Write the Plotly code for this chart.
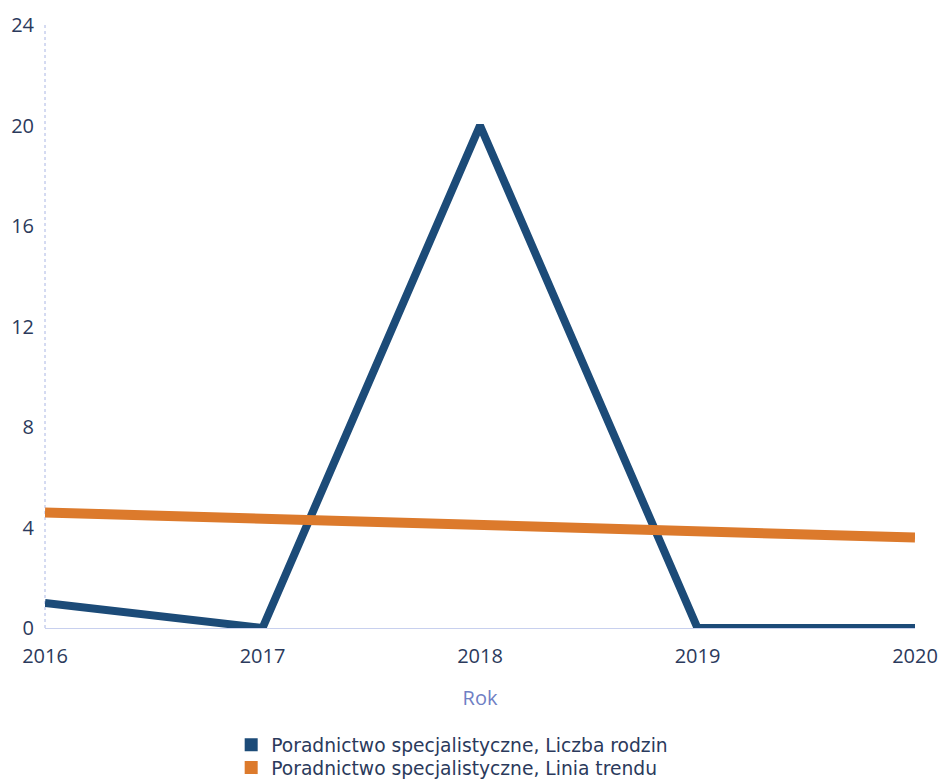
import plotly.graph_objects as go

years = [2016, 2017, 2018, 2019, 2020]
liczba_rodzin = [1, 0, 20, 0, 0]
linia_trendu = [4.6, 4.35, 4.1, 3.85, 3.6]
y_ticks = [0, 4, 8, 12, 16, 20, 24]
name_rodzin = "Poradnictwo specjalistyczne, Liczba rodzin"
name_trend = "Poradnictwo specjalistyczne, Linia trendu"

blue = "#1c4b78"
orange = "#dc7a2c"
tick_color = "#2b3a5c"

fig = go.Figure()
fig.add_trace(go.Scatter(x=years, y=liczba_rodzin, mode="lines",
                         line=dict(color=blue, width=8), showlegend=False,
                         cliponaxis=False))
fig.add_trace(go.Scatter(x=years, y=linia_trendu, mode="lines",
                         line=dict(color=orange, width=10), showlegend=False,
                         cliponaxis=False))
# legend entries (one legend per row for exact spacing)
fig.add_trace(go.Scatter(x=[None], y=[None], mode="markers", name=name_rodzin,
                         marker=dict(symbol="square", size=13, color=blue),
                         legend="legend"))
fig.add_trace(go.Scatter(x=[None], y=[None], mode="markers", name=name_trend,
                         marker=dict(symbol="square", size=13, color=orange),
                         legend="legend2"))

# dotted left axis line
fig.add_shape(type="line", xref="x domain", yref="y domain", x0=0, x1=0, y0=0, y1=1,
              line=dict(color="#aab6e4", width=1, dash="dot"), layer="below")

legend_style = dict(x=0.214, xanchor="left", yanchor="middle",
                    font=dict(family="DejaVu Sans", size=18.7, color=tick_color),
                    itemwidth=30, bgcolor="rgba(0,0,0,0)")

fig.update_layout(
    width=940, height=780,
    margin=dict(l=45, r=25, t=25, b=152, autoexpand=False),
    paper_bgcolor="white", plot_bgcolor="white",
    font=dict(family="Open Sans", size=20, color=tick_color),
    xaxis=dict(range=[2016, 2020], tickvals=years, showgrid=False, automargin=False,
               zeroline=False, showline=True, linecolor="#c8d0ee", linewidth=1,
               ticks="", ticklabelstandoff=10,
               tickfont=dict(size=20, color=tick_color),
               title=dict(text="Rok", font=dict(size=20, color="#6f80c4"), standoff=22)),
    yaxis=dict(range=[0, 24], tickvals=y_ticks, showgrid=False, zeroline=False,
               showline=False, automargin=False,
               ticks="", ticklabelstandoff=10,
               tickfont=dict(size=20, color=tick_color)),
    legend=dict(y=-0.194, **legend_style),
    legend2=dict(y=-0.232, **legend_style),
)
fig.write_html("out.html", config={"displayModeBar": False},
               post_script="document.body.style.margin='0px';document.body.style.overflow='hidden';")
